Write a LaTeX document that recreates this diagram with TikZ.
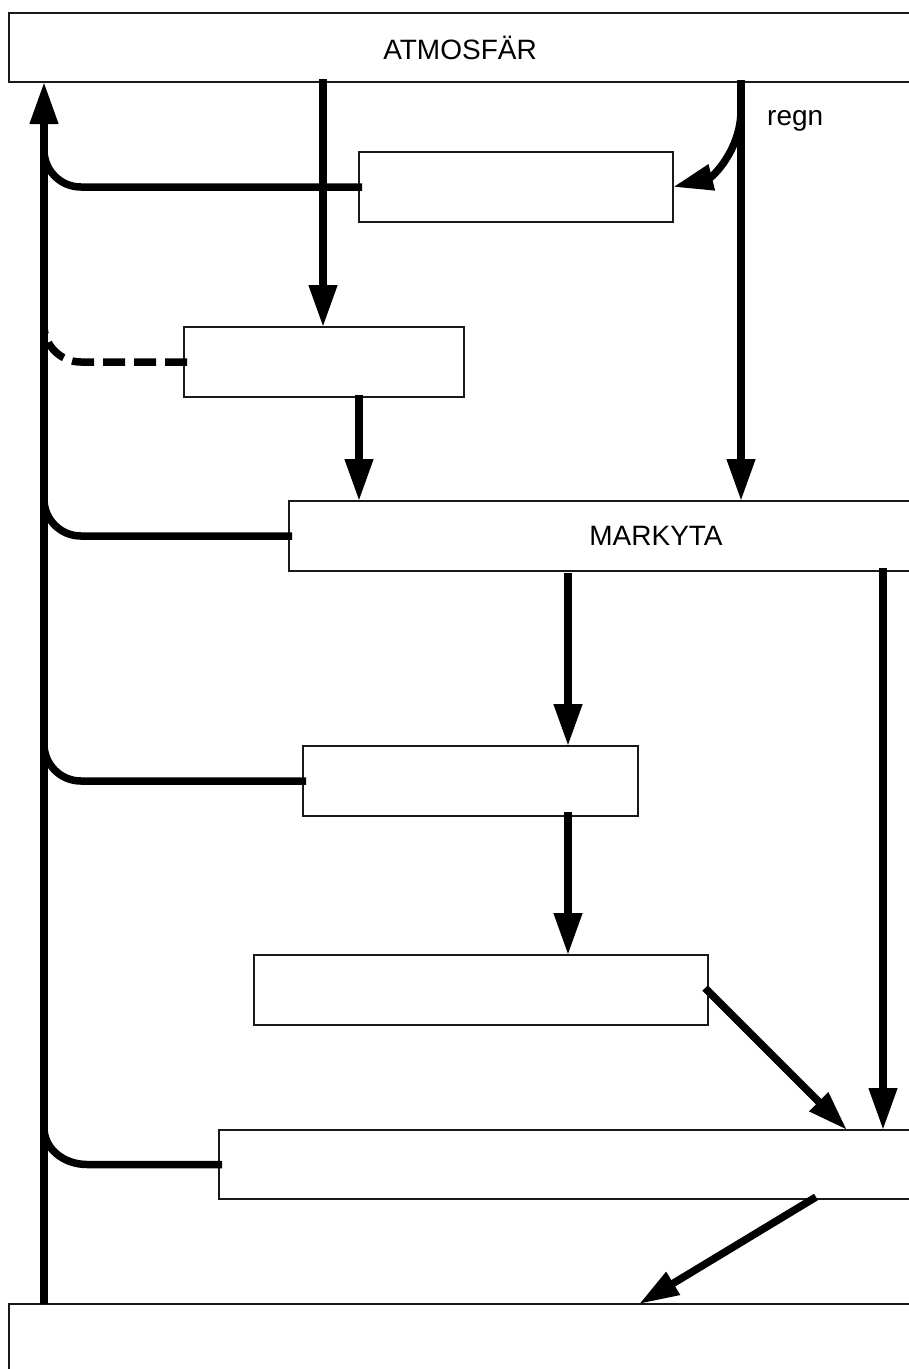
\documentclass[tikz,border=0pt]{standalone}
\usepackage{fontspec}
\setmainfont{Liberation Sans}
\usetikzlibrary{arrows.meta,calc}
\begin{document}
\begin{tikzpicture}[x=1pt,y=1pt,
  box/.style={draw=black!90,line width=1.2pt,inner sep=0pt,outer sep=0pt,anchor=north west,fill=white},
  lbl/.style={font=\fontsize{28}{34}\selectfont,inner sep=0pt},
  arr/.style={line width=7.5pt,-{Triangle[length=42pt,width=27pt]}},
  ret/.style={line width=7.5pt}]
\useasboundingbox (0,0) rectangle (909,-1369);
\clip (0,0) rectangle (909,-1369);
% boxes
\node[box,minimum width=902pt,minimum height=69pt] (atm) at (9,-13) {};
\node[lbl] at (460,-48) {ATMOSFÄR};
\node[box,minimum width=314pt,minimum height=70pt] (b2) at (359,-152) {};
\node[box,minimum width=280pt,minimum height=70pt] (b3) at (184,-327) {};
\node[box,minimum width=734pt,minimum height=70pt] (mark) at (289,-501) {};
\node[lbl] at (656,-536) {MARKYTA};
\node[box,minimum width=335pt,minimum height=70pt] (b5) at (303,-746) {};
\node[box,minimum width=454pt,minimum height=70pt] (b6) at (254,-955) {};
\node[box,minimum width=720pt,minimum height=69pt] (b7) at (219,-1130) {};
\node[box,minimum width=920pt,minimum height=100pt] (b8) at (9,-1304) {};
\node[lbl,anchor=base west] (regn) at (767,-125) {regn};
% helper coordinates
\coordinate (lx) at (44,0);
\coordinate (cx) at (81,0);
\coordinate (s1) at (323,-79);
\coordinate (s2) at (359,-395);
\coordinate (s3) at (741,-80);
\coordinate (s3b) at (741,-110);
\coordinate (s4) at (568,-573);
\coordinate (s5) at (568,-812);
\coordinate (s6) at (883,-568);
\coordinate (s7) at (705,-988);
\coordinate (t7) at (847,-1130);
\coordinate (s8) at (816,-1197);
\coordinate (t8) at (639,-1304);
% return lines to the left riser
\draw[ret] ([xshift=3pt]b2.west) -- (b2.west -| cx) to[out=180,in=-90] ($(b2.west -| lx)+(0,37)$);
\draw[ret,dash pattern=on 22pt off 9pt] ([xshift=3pt]b3.west) -- (b3.west -| cx) to[out=180,in=-90] ($(b3.west -| lx)+(0,37)$);
\draw[ret] ([xshift=3pt]mark.west) -- (mark.west -| cx) to[out=180,in=-90] ($(mark.west -| lx)+(0,37)$);
\draw[ret] ([xshift=3pt]b5.west) -- (b5.west -| cx) to[out=180,in=-90] ($(b5.west -| lx)+(0,37)$);
\draw[ret] ([xshift=3pt]b7.west) -- ($(b7.west -| cx)+(6,0)$) to[out=180,in=-90] ($(b7.west -| lx)+(0,37)$);
% left riser
\draw[arr] (lx |- b8.north) -- (lx |- atm.south);
% downward arrows
\draw[arr] (s1) -- (s1 |- b3.north);
\draw[arr] (s2) -- (s2 |- mark.north);
\draw[arr] (s3) -- (s3 |- mark.north);
\draw[arr,-{Triangle[length=40pt,width=25pt]}] (s3b) to[out=-90,in=14] (b2.east);
\draw[arr] (s4) -- (s4 |- b5.north);
\draw[arr] (s5) -- (s5 |- b6.north);
\draw[arr] (s6) -- (s6 |- b7.north);
\draw[arr,-{Triangle[length=40pt,width=25pt]}] (s7) -- (t7);
\draw[arr,-{Triangle[length=40pt,width=25pt]}] (s8) -- (t8);
\end{tikzpicture}
\end{document}
